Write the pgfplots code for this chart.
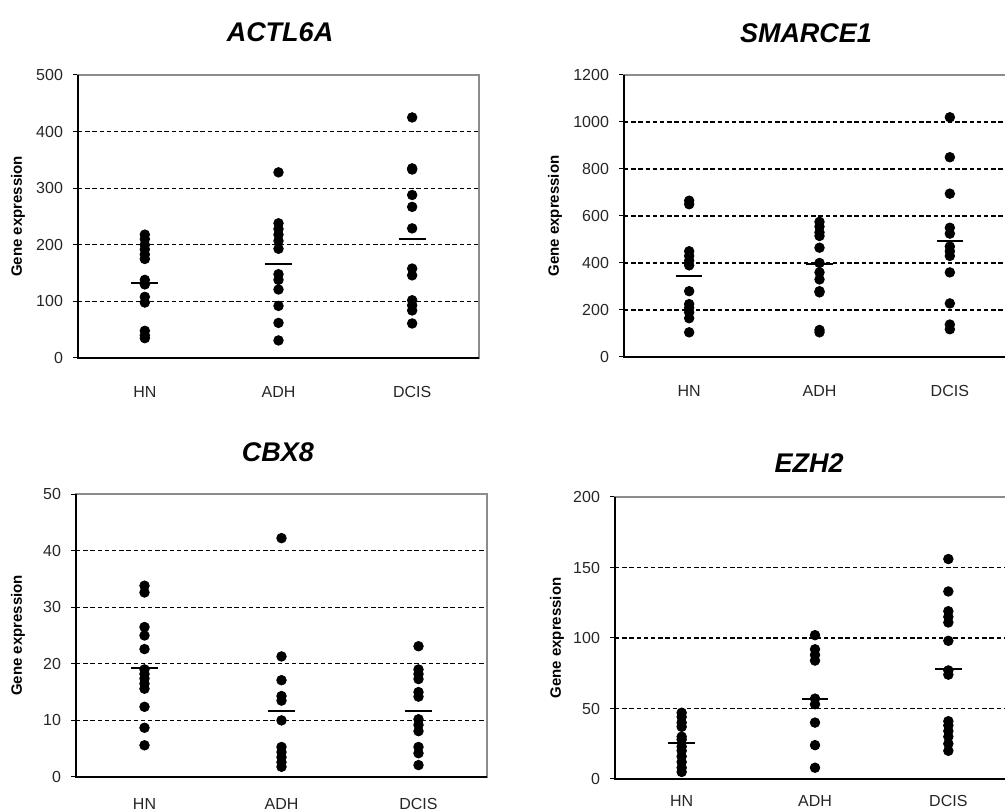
\documentclass[border=0pt]{standalone}
\usepackage{fontspec}
\setmainfont{Liberation Sans}
\usepackage{pgfplots}
\pgfplotsset{compat=1.18}
\pgfplotsset{
  gstyle/.style={
    scale only axis, anchor=south west,
    xmin=0.5, xmax=3.5, ymin=0,
    xtick={1,2,3}, xticklabels={HN,ADH,DCIS},
    x tick style={draw=none},
    y tick style={black, line width=0.5pt},
    tick align=outside, major tick length=2.5pt,
    ytick pos=left, xtick pos=bottom,
    ymajorgrids,
    grid style={black, line width=0.55pt, dash pattern=on 2.2pt off 1.4pt},
    axis line style={draw=black!45, line width=0.7pt},
    tick label style={font=\fontsize{8}{9}\selectfont, text=black!85},
    /pgf/number format/assume math mode=true,
    /pgf/number format/1000 sep={},
    yticklabel style={xshift=-1.5pt},
    xticklabel style={yshift=-8pt},
    after end axis/.code={\draw[black, line width=0.9pt] (rel axis cs:0,1) -- (rel axis cs:0,0) -- (rel axis cs:1,0);},
  },
  dots/.style={only marks, mark=*, mark size=2.4pt, black},
  mean/.style={black, line width=1pt, mark=none},
}
\begin{document}
\begin{tikzpicture}
\useasboundingbox (0,0) rectangle (502.5pt,406pt);
\clip (0,0) rectangle (502.5pt,406pt);

% ACTL6A
\begin{axis}[gstyle, at={(39pt,227pt)}, width=200.5pt, height=141.5pt,
  ymax=500, ytick={0,100,...,500}]
\addplot[dots] coordinates {
 (1,218) (1,210) (1,200) (1,192) (1,183) (1,175) (1,138) (1,130) (1,108) (1,98) (1,48) (1,40) (1,35)
 (2,328) (2,238) (2,228) (2,218) (2,207) (2,193) (2,148) (2,138) (2,121) (2,92) (2,62) (2,31)
 (3,425) (3,335) (3,333) (3,288) (3,267) (3,229) (3,158) (3,146) (3,102) (3,93) (3,84) (3,61)};
\addplot[mean] coordinates {(0.9,133) (1.1,133)};
\addplot[mean] coordinates {(1.9,166) (2.1,166)};
\addplot[mean] coordinates {(2.9,210) (3.1,210)};
\end{axis}

% SMARCE1
\begin{axis}[gstyle, at={(312pt,227.5pt)}, width=195.5pt, height=141pt,
  ymax=1200, ytick={0,200,...,1200}]
\addplot[dots] coordinates {
 (1,665) (1,650) (1,450) (1,430) (1,410) (1,390) (1,280) (1,225) (1,210) (1,190) (1,165) (1,105)
 (2,575) (2,555) (2,530) (2,515) (2,465) (2,400) (2,360) (2,330) (2,280) (2,275) (2,115) (2,105)
 (3,1020) (3,850) (3,695) (3,550) (3,525) (3,470) (3,450) (3,430) (3,360) (3,228) (3,138) (3,118)};
\addplot[mean] coordinates {(0.9,346) (1.1,346)};
\addplot[mean] coordinates {(1.9,397) (2.1,397)};
\addplot[mean] coordinates {(2.9,492) (3.1,492)};
\end{axis}

% CBX8
\begin{axis}[gstyle, at={(38pt,17.5pt)}, width=205.5pt, height=141.5pt,
  ymax=50, ytick={0,10,...,50}, xticklabel style={yshift=3.5pt}]
\addplot[dots] coordinates {
 (1,33.8) (1,32.6) (1,26.5) (1,25.0) (1,22.6) (1,19.0) (1,18.2) (1,17.4) (1,16.5) (1,15.6) (1,12.4) (1,8.7) (1,5.6)
 (2,42.2) (2,21.3) (2,17.1) (2,14.3) (2,13.5) (2,10.0) (2,5.3) (2,4.4) (2,3.5) (2,2.6) (2,1.8)
 (3,23.1) (3,19.0) (3,18.2) (3,17.3) (3,15.0) (3,14.2) (3,10.2) (3,9.2) (3,8.1) (3,5.3) (3,4.2) (3,2.1)};
\addplot[mean] coordinates {(0.9,19.3) (1.1,19.3)};
\addplot[mean] coordinates {(1.9,11.6) (2.1,11.6)};
\addplot[mean] coordinates {(2.9,11.6) (3.1,11.6)};
\end{axis}

% EZH2
\begin{axis}[gstyle, at={(307.5pt,16.5pt)}, width=200pt, height=141pt,
  ymax=200, ytick={0,50,...,200}, xticklabel style={yshift=6pt}]
\addplot[dots] coordinates {
 (1,47) (1,44) (1,40) (1,37) (1,30) (1,28) (1,23) (1,20) (1,16) (1,12) (1,8) (1,5)
 (2,102) (2,92) (2,88) (2,84) (2,57) (2,53) (2,40) (2,24) (2,8)
 (3,156) (3,133) (3,119) (3,115) (3,111) (3,98) (3,77) (3,74) (3,41) (3,38) (3,34) (3,30) (3,25) (3,20)};
\addplot[mean] coordinates {(0.9,25.6) (1.1,25.6)};
\addplot[mean] coordinates {(1.9,56.6) (2.1,56.6)};
\addplot[mean] coordinates {(2.9,77.7) (3.1,77.7)};
\end{axis}

% titles
\node[font=\fontsize{13.5}{15}\selectfont\bfseries\itshape] at (140pt,390pt) {ACTL6A};
\node[font=\fontsize{13.5}{15}\selectfont\bfseries\itshape] at (403pt,389.5pt) {SMARCE1};
\node[font=\fontsize{13.5}{15}\selectfont\bfseries\itshape] at (139pt,180pt) {CBX8};
\node[font=\fontsize{13.5}{15}\selectfont\bfseries\itshape] at (404.5pt,174.5pt) {EZH2};

% y labels
\node[rotate=90, font=\fontsize{7.5}{9}\selectfont\bfseries] at (9pt,297.75pt) {Gene expression};
\node[rotate=90, font=\fontsize{7.5}{9}\selectfont\bfseries] at (277.5pt,298pt) {Gene expression};
\node[rotate=90, font=\fontsize{7.5}{9}\selectfont\bfseries] at (9pt,88.25pt) {Gene expression};
\node[rotate=90, font=\fontsize{7.5}{9}\selectfont\bfseries] at (278.5pt,87pt) {Gene expression};
\end{tikzpicture}
\end{document}
